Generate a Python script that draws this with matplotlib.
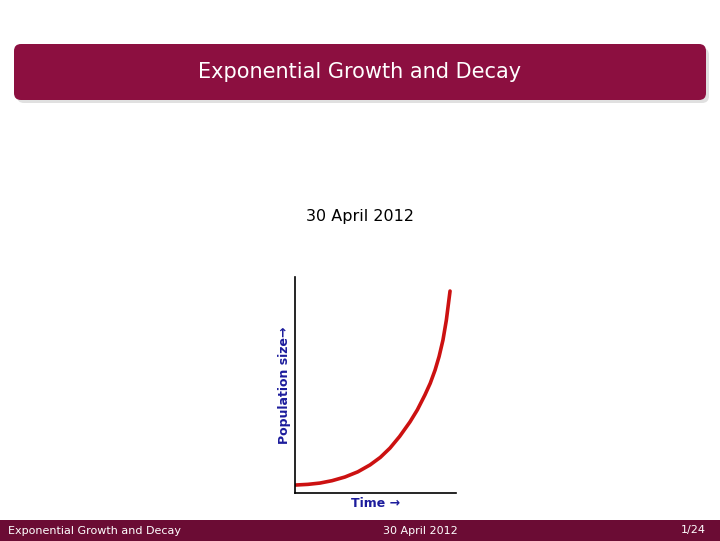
import matplotlib.pyplot as plt
from matplotlib.patches import FancyBboxPatch, Rectangle

W, H = 720, 541
title = 'Exponential Growth and Decay'
date = '30 April 2012'
page = '1/24'

# curve (time, population), axes run 0..1
time = [0.006, 0.08, 0.155, 0.23, 0.31, 0.39, 0.466, 0.53, 0.59, 0.65, 0.714, 0.76,
        0.807, 0.84, 0.87, 0.895, 0.919, 0.94, 0.963]
pop = [0.037, 0.040, 0.046, 0.057, 0.074, 0.098, 0.13, 0.165, 0.208, 0.262, 0.329, 0.385,
       0.454, 0.508, 0.569, 0.632, 0.708, 0.80, 0.935]

maroon = '#8c0f40'
footer_col = '#6b0c34'
blue = '#1c1c9c'

fig = plt.figure(figsize=(W / 100, H / 100), dpi=100)
bg = fig.add_axes([0, 0, 1, 1])
bg.set_xlim(0, W)
bg.set_ylim(H, 0)
bg.axis('off')

# title bar with shadow
bg.add_patch(FancyBboxPatch((17, 48), 692, 55, boxstyle='round,pad=0,rounding_size=7',
                            fc='#cccccc', ec='none', alpha=0.6))
bg.add_patch(FancyBboxPatch((14, 44), 692, 56, boxstyle='round,pad=0,rounding_size=7',
                            fc=maroon, ec='none'))
bg.text(360, 72, title, color='white', fontsize=15, ha='center', va='center', family='DejaVu Sans')
bg.text(360, 216, date, color='black', fontsize=11.5, ha='center', va='center')

# footer
bg.add_patch(Rectangle((0, 520), W, 21, fc=footer_col, ec='none'))
bg.text(8, 530.5, title, color='white', fontsize=8, ha='left', va='center')
bg.text(420, 530.5, date, color='white', fontsize=8, ha='center', va='center')
bg.text(706, 530.5, page, color='white', fontsize=8, ha='right', va='center')

# the chart
ax = fig.add_axes([295 / W, (H - 493) / H, 161 / W, 216 / H])
ax.plot(time, pop, color='#cc1111', lw=2.6, solid_capstyle='round')
ax.set_xlim(0, 1)
ax.set_ylim(0, 1)
ax.set_xticks([])
ax.set_yticks([])
for s in ['top', 'right']:
    ax.spines[s].set_visible(False)
for s in ['left', 'bottom']:
    ax.spines[s].set_linewidth(1.2)
ax.set_xlabel('Time \u2192', color=blue, fontsize=9, fontweight='bold', labelpad=3)
ax.set_ylabel('Population size\u2192', color=blue, fontsize=9, fontweight='bold', labelpad=3)

fig.savefig('out.png', dpi=100)
